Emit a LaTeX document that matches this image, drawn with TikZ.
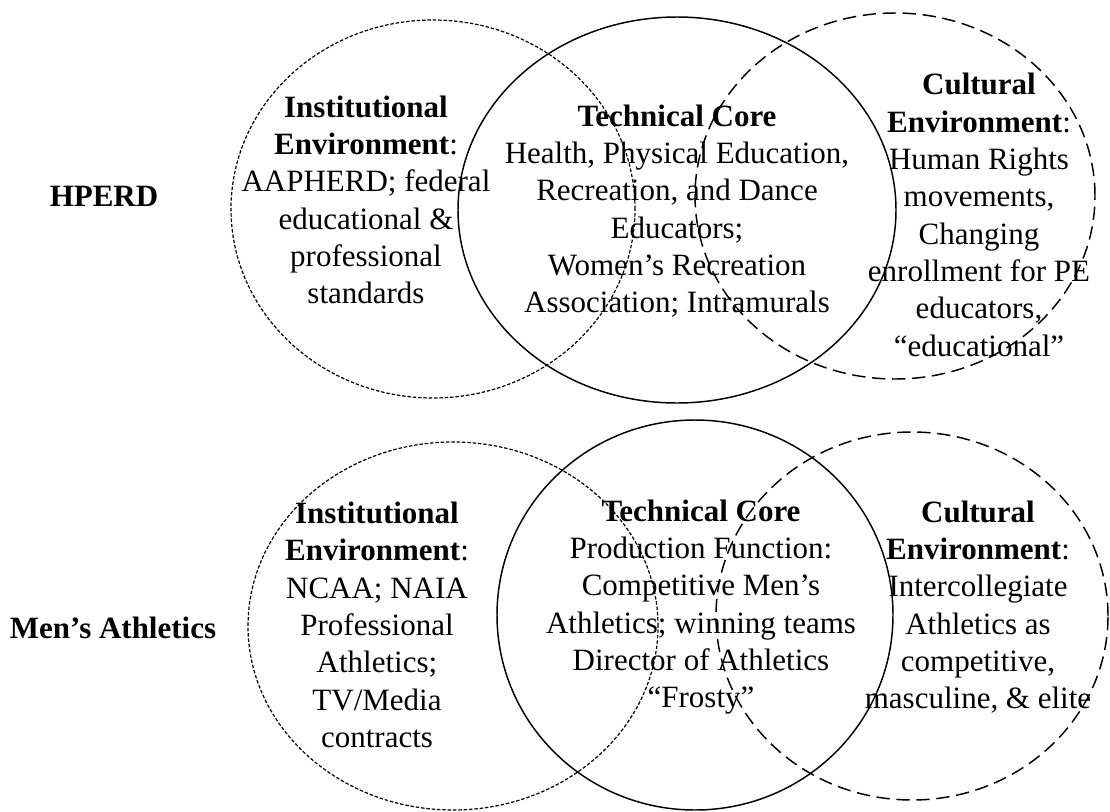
\documentclass[tikz,border=0pt]{standalone}
\usepackage{fontspec}
\setmainfont{Liberation Serif}
\begin{document}
\begin{tikzpicture}[x=0.75pt,y=-0.75pt,
  fine/.style={line width=0.9pt, dash pattern=on 2.6pt off 1.4pt},
  longdash/.style={line width=1.1pt, dash pattern=on 10pt off 5pt},
  core/.style={line width=1.1pt},
  txt/.style={align=center, font=\fontsize{23.25}{28}\selectfont, inner sep=0pt},
  rowlabel/.style={font=\fontsize{23.25}{28}\selectfont\bfseries, inner sep=0pt}]
\useasboundingbox (0,0) rectangle (1110,811);
% top row
\draw[fine] (433,209) ellipse [x radius=151.5pt, y radius=141.75pt];
\draw[core] (677,210) ellipse [x radius=164.25pt, y radius=144.75pt];
\draw[longdash] (895,196) ellipse [x radius=150pt, y radius=137.25pt];
% bottom row
\draw[fine] (453,626) ellipse [x radius=153.75pt, y radius=138pt];
\draw[core] (695,615) ellipse [x radius=148.5pt, y radius=146.25pt];
\draw[longdash] (912,616) ellipse [x radius=147pt, y radius=138pt];
% labels
\node[rowlabel] (hperd) at (104,196) {HPERD};
\node[rowlabel] (men) at (113,628) {Men’s Athletics};
% top texts
\node[txt] (tl) at (366,200) {\textbf{Institutional}\\\textbf{Environment}:\\AAPHERD; federal\\educational \&\\professional\\standards};
\node[txt] (tm) at (677,211) {\textbf{Technical Core}\\Health, Physical Education,\\Recreation, and Dance\\Educators;\\Women’s Recreation\\Association; Intramurals};
\node[txt] (tr) at (979,215) {\textbf{Cultural}\\\textbf{Environment}:\\Human Rights\\movements,\\Changing\\enrollment for PE\\educators,\\“educational”};
% bottom texts
\node[txt] (bl) at (377,625) {\textbf{Institutional}\\\textbf{Environment}:\\NCAA; NAIA\\Professional\\Athletics;\\TV/Media\\contracts};
\node[txt] (bm) at (701,607) {\textbf{Technical Core}\\Production Function:\\Competitive Men’s\\Athletics; winning teams\\Director of Athletics\\“Frosty”};
\node[txt] (br) at (978,607) {\textbf{Cultural}\\\textbf{Environment}:\\Intercollegiate\\Athletics as\\competitive,\\masculine, \& elite};
\end{tikzpicture}
\end{document}
